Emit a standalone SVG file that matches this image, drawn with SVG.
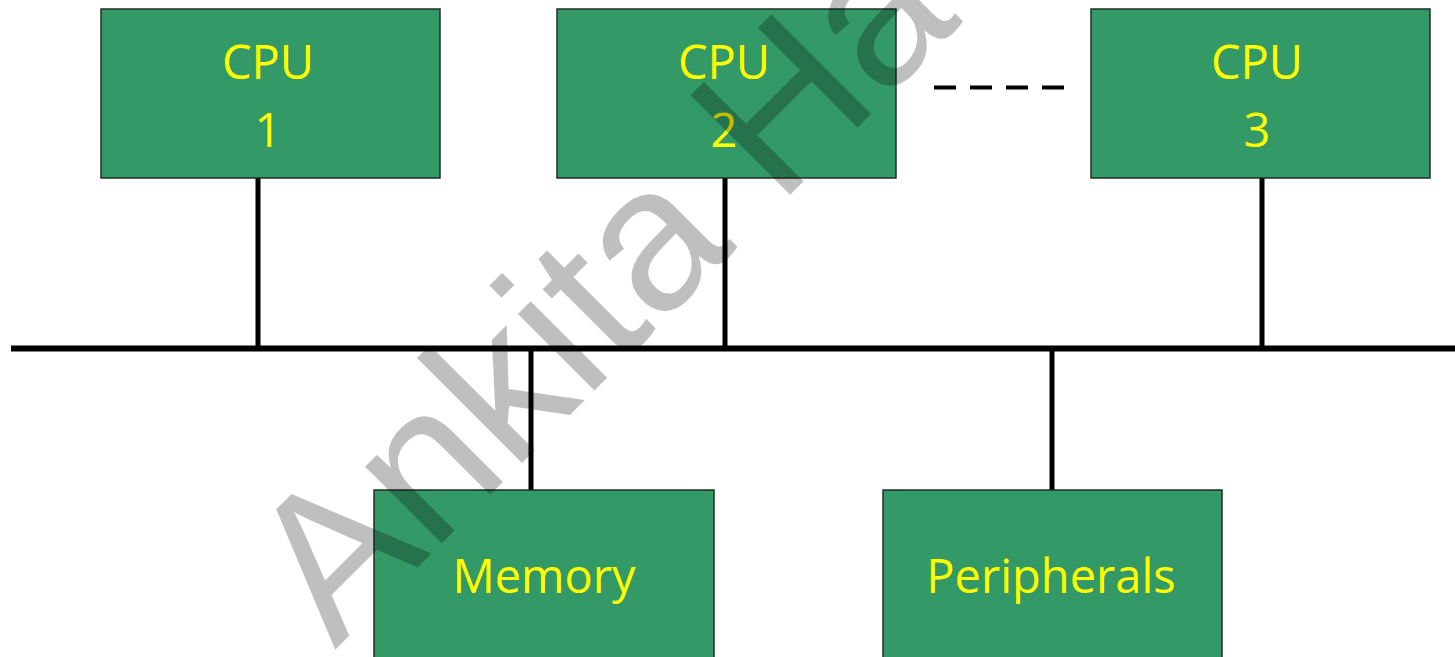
<svg xmlns="http://www.w3.org/2000/svg" width="1455" height="657" viewBox="0 0 1455 657">
  <style>
    .box { fill: #339966; stroke: #1f2f24; stroke-width: 1.5; }
    .lbl { font-family: "Open Sans", "Liberation Sans", sans-serif; font-size: 47px; fill: #ffff00; text-anchor: middle; }
    .wire { stroke: #000000; stroke-width: 5; fill: none; }
    .bus { stroke: #000000; stroke-width: 6; fill: none; }
    .dash { stroke: #000000; stroke-width: 4; stroke-dasharray: 22 14; fill: none; }
    .wm { font-family: "Liberation Sans", Arial, sans-serif; font-size: 205px; fill: #000000; fill-opacity: 0.25; }
  </style>
  <rect width="1455" height="657" fill="#ffffff"/>
  <g id="connectors">
    <line class="bus" x1="11" y1="348.5" x2="1455" y2="348.5"/>
    <line class="wire" x1="258" y1="178" x2="258" y2="347"/>
    <line class="wire" x1="725" y1="178" x2="725" y2="347"/>
    <line class="wire" x1="1262" y1="178" x2="1262" y2="347"/>
    <line class="wire" x1="531" y1="350" x2="531" y2="490"/>
    <line class="wire" x1="1052" y1="350" x2="1052" y2="490"/>
    <line class="dash" x1="934" y1="87.5" x2="1064" y2="87.5"/>
  </g>
  <g id="cpu1">
    <rect class="box" x="101" y="9" width="339" height="169"/>
    <text class="lbl" x="268" y="79">CPU</text>
    <text class="lbl" x="268" y="147">1</text>
  </g>
  <g id="cpu2">
    <rect class="box" x="557" y="9" width="339" height="169"/>
    <text class="lbl" x="724" y="79">CPU</text>
    <text class="lbl" x="724" y="147">2</text>
  </g>
  <g id="cpu3">
    <rect class="box" x="1091" y="9" width="339" height="169"/>
    <text class="lbl" x="1257" y="79">CPU</text>
    <text class="lbl" x="1257" y="147">3</text>
  </g>
  <g id="memory">
    <rect class="box" x="374" y="490" width="340" height="180"/>
    <text class="lbl" x="544" y="593">Memory</text>
  </g>
  <g id="peripherals">
    <rect class="box" x="883" y="490" width="339" height="180"/>
    <text class="lbl" x="1051" y="593">Peripherals</text>
  </g>
  <g id="watermark">
    <text class="wm" transform="translate(335,650) rotate(-45)">Ankita Ha</text>
  </g>
</svg>
